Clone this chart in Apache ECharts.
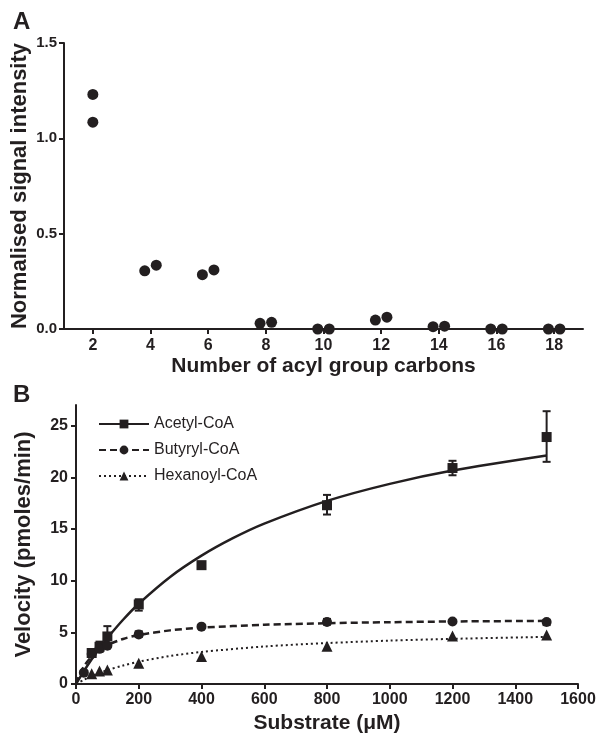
<!DOCTYPE html>
<html>
<head>
<meta charset="utf-8">
<script src="https://cdn.jsdelivr.net/npm/echarts@6/dist/echarts.min.js"></script>
<style>
  html, body { margin: 0; padding: 0; background: #fff; }
  #main { width: 606px; height: 734px; }
</style>
</head>
<body>
<div id="main"></div>
<script>
// Panel A: number of acyl carbons vs normalised signal (two replicates, jittered)
var carbonTicks = [2, 4, 6, 8, 10, 12, 14, 16, 18];
var signalPoints = [
  [2.0, 1.23], [2.0, 1.085],
  [3.8, 0.305], [4.2, 0.335],
  [5.8, 0.285], [6.2, 0.31],
  [7.8, 0.03], [8.2, 0.035],
  [9.8, 0.0], [10.2, 0.0],
  [11.8, 0.047], [12.2, 0.062],
  [13.8, 0.012], [14.2, 0.015],
  [15.8, 0.0], [16.2, 0.0],
  [17.8, 0.0], [18.2, 0.0]
];
var signalTicks = [0, 0.5, 1.0, 1.5];

// Panel B: substrate (uM) vs velocity
var velocityTicks = [0, 5, 10, 15, 20, 25];
var substrateTicks = [0, 200, 400, 600, 800, 1000, 1200, 1400, 1600];

var acetylPoints = [[50, 3.0], [75, 3.6], [100, 4.6], [200, 7.7], [400, 11.5], [800, 17.3], [1200, 20.9], [1500, 23.9]];
var acetylErr = [[75, 3.1, 4.1], [100, 3.8, 5.6], [200, 7.1, 8.2], [800, 16.4, 18.3], [1200, 20.2, 21.6], [1500, 21.5, 26.4]];
var acetylFit = [[0, 0], [25, 1.25], [50, 2.4], [75, 3.46], [100, 4.45], [150, 6.22], [200, 7.77], [300, 10.36], [400, 12.42],
  [500, 14.11], [600, 15.52], [800, 17.72], [1000, 19.37], [1200, 20.66], [1500, 22.12]];

var butyrylPoints = [[25, 1.1], [50, 2.9], [75, 3.4], [100, 3.7], [200, 4.8], [400, 5.55], [800, 6.0], [1200, 6.05], [1500, 6.0]];
var butyrylErr = [[200, 4.55, 5.1], [800, 5.75, 6.3], [1500, 5.7, 6.2]];
var butyrylFit = [[0, 0], [10, 0.8], [25, 1.69], [50, 2.67], [75, 3.31], [100, 3.76], [150, 4.36], [200, 4.74], [300, 5.19],
  [400, 5.45], [600, 5.73], [800, 5.88], [1000, 5.98], [1200, 6.05], [1500, 6.11]];

var hexanoylPoints = [[50, 1.0], [75, 1.25], [100, 1.35], [200, 2.0], [400, 2.65], [800, 3.65], [1200, 4.65], [1500, 4.75]];
var hexanoylFit = [[0, 0], [25, 0.41], [50, 0.76], [100, 1.34], [150, 1.79], [200, 2.16], [300, 2.71], [400, 3.1],
  [600, 3.63], [800, 3.96], [1000, 4.2], [1200, 4.37], [1500, 4.56]];

var ink = '#231f20';
var font = '"Liberation Sans", Arial, Helvetica, sans-serif';

var chart = echarts.init(document.getElementById('main'));

function errorBars(data) {
  return {
    type: 'custom',
    xAxisIndex: 1,
    yAxisIndex: 1,
    silent: true,
    z: 4,
    renderItem: function (params, api) {
      var x = api.value(0);
      var lo = api.coord([x, api.value(1)]);
      var hi = api.coord([x, api.value(2)]);
      var w = 4;
      var style = { stroke: ink, lineWidth: 2 };
      return {
        type: 'group',
        children: [
          { type: 'line', shape: { x1: lo[0], y1: lo[1], x2: hi[0], y2: hi[1] }, style: style },
          { type: 'line', shape: { x1: lo[0] - w, y1: lo[1], x2: lo[0] + w, y2: lo[1] }, style: style },
          { type: 'line', shape: { x1: hi[0] - w, y1: hi[1], x2: hi[0] + w, y2: hi[1] }, style: style }
        ]
      };
    },
    encode: { x: 0, y: [1, 2] },
    data: data
  };
}

var axisCommon = {
  axisLine: { show: true, onZero: false, lineStyle: { color: ink, width: 2 } },
  axisTick: { show: true, inside: false, length: 5, lineStyle: { color: ink, width: 2 } },
  splitLine: { show: false },
  nameMoveOverlap: false
};

function nameStyle(size) {
  return { color: ink, fontFamily: font, fontWeight: 'bold', fontSize: size };
}

function labelStyle(extra) {
  return Object.assign({ color: ink, fontFamily: font, fontWeight: 'bold', fontSize: 16, margin: 8 }, extra || {});
}

function plain(v) { return String(v); }

var dotStyle = { color: ink, opacity: 1 };

var option = {
  backgroundColor: '#fff',
  animation: false,
  title: [
    { text: 'A', left: 8, top: 5, textStyle: { fontFamily: font, fontWeight: 'bold', fontSize: 24, color: ink } },
    { text: 'B', left: 8, top: 378, textStyle: { fontFamily: font, fontWeight: 'bold', fontSize: 24, color: ink } }
  ],
  legend: {
    left: 93,
    top: 411,
    orient: 'vertical',
    itemWidth: 50,
    itemHeight: 11,
    itemGap: 10,
    data: ['Acetyl-CoA', 'Butyryl-CoA', 'Hexanoyl-CoA'],
    textStyle: { color: ink, fontFamily: font, fontSize: 16 }
  },
  grid: [
    { left: 64, top: 43, width: 519, height: 286, containLabel: false, outerBoundsMode: 'none' },
    { left: 76, top: 405, width: 502, height: 279, containLabel: false, outerBoundsMode: 'none' }
  ],
  xAxis: [
    Object.assign({}, axisCommon, {
      gridIndex: 0, type: 'value', min: 1, max: 19,
      name: 'Number of acyl group carbons', nameLocation: 'middle', nameGap: 27,
      nameTextStyle: nameStyle(21),
      axisTick: Object.assign({}, axisCommon.axisTick, { customValues: carbonTicks }),
      axisLabel: labelStyle({ customValues: carbonTicks, margin: 9, formatter: plain })
    }),
    Object.assign({}, axisCommon, {
      gridIndex: 1, type: 'value', min: 0, max: 1600,
      name: 'Substrate (μM)', nameLocation: 'middle', nameGap: 29,
      nameTextStyle: nameStyle(21),
      axisTick: Object.assign({}, axisCommon.axisTick, { customValues: substrateTicks }),
      axisLabel: labelStyle({ customValues: substrateTicks, margin: 8, formatter: plain })
    })
  ],
  yAxis: [
    Object.assign({}, axisCommon, {
      gridIndex: 0, type: 'value', min: 0, max: 1.5,
      name: 'Normalised signal intensity', nameLocation: 'middle', nameGap: 33,
      nameTextStyle: nameStyle(22),
      axisTick: Object.assign({}, axisCommon.axisTick, { customValues: signalTicks }),
      axisLabel: labelStyle({ customValues: signalTicks, fontSize: 15, margin: 7, formatter: function (v) { return v.toFixed(1); } })
    }),
    Object.assign({}, axisCommon, {
      gridIndex: 1, type: 'value', min: 0, max: 27,
      name: 'Velocity (pmoles/min)', nameLocation: 'middle', nameGap: 41,
      nameTextStyle: nameStyle(22),
      axisTick: Object.assign({}, axisCommon.axisTick, { customValues: velocityTicks }),
      axisLabel: labelStyle({ customValues: velocityTicks, margin: 8, formatter: plain })
    })
  ],
  series: [
    {
      type: 'scatter', xAxisIndex: 0, yAxisIndex: 0,
      symbol: 'circle', symbolSize: 11,
      itemStyle: dotStyle,
      data: signalPoints
    },
    // fitted curves (legend entries)
    {
      name: 'Acetyl-CoA', type: 'line', xAxisIndex: 1, yAxisIndex: 1,
      smooth: 0.3, showSymbol: false, symbol: 'rect', symbolSize: 10,
      lineStyle: { color: ink, width: 2.5 }, itemStyle: dotStyle,
      data: acetylFit
    },
    {
      name: 'Butyryl-CoA', type: 'line', xAxisIndex: 1, yAxisIndex: 1,
      smooth: 0.3, showSymbol: false, symbol: 'circle', symbolSize: 9,
      lineStyle: { color: ink, width: 2.5, type: [7, 4] }, itemStyle: dotStyle,
      data: butyrylFit
    },
    {
      name: 'Hexanoyl-CoA', type: 'line', xAxisIndex: 1, yAxisIndex: 1,
      smooth: 0.3, showSymbol: false, symbol: 'triangle', symbolSize: 10,
      lineStyle: { color: ink, width: 2, type: [2, 3] }, itemStyle: dotStyle,
      data: hexanoylFit
    },
    errorBars(acetylErr),
    errorBars(butyrylErr),
    {
      type: 'scatter', xAxisIndex: 1, yAxisIndex: 1, z: 5,
      symbol: 'rect', symbolSize: 10, itemStyle: dotStyle,
      data: acetylPoints
    },
    {
      type: 'scatter', xAxisIndex: 1, yAxisIndex: 1, z: 5,
      symbol: 'circle', symbolSize: 10, itemStyle: dotStyle,
      data: butyrylPoints
    },
    {
      type: 'scatter', xAxisIndex: 1, yAxisIndex: 1, z: 5,
      symbol: 'triangle', symbolSize: 11, itemStyle: dotStyle,
      data: hexanoylPoints
    }
  ]
};

chart.setOption(option);
</script>
</body>
</html>
